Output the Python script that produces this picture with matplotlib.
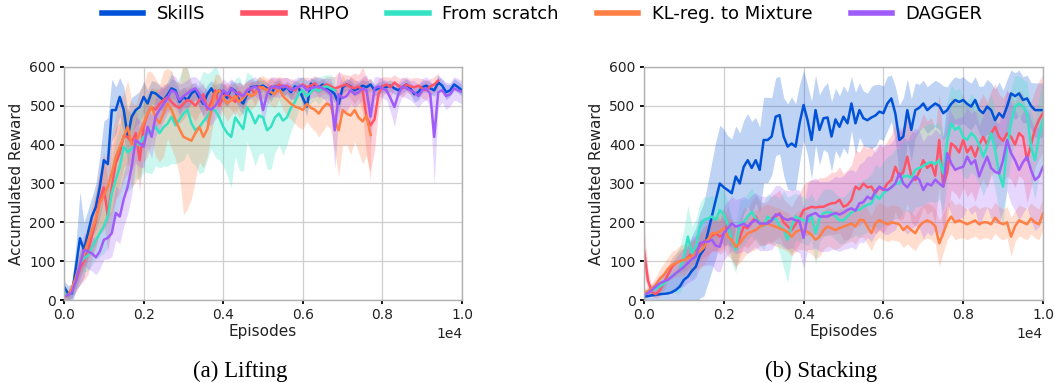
import numpy as np
import matplotlib
matplotlib.use('Agg')
from matplotlib import pyplot as plt


names = ['SkillS', 'RHPO', 'From scratch', 'KL-reg. to Mixture', 'DAGGER']
colors = ['#0052D9', '#FF5468', '#36E2C4', '#FF7F45', '#A05CF8']
step = 100  # episodes between logged points

# ---- (a) Lifting ----
lift_skills = [34, 17, 17, 86, 159, 129, 172, 215, 240, 292,
               360, 350, 489, 489, 523, 489, 420, 472, 489, 497,
               523, 506, 535, 532, 523, 515, 528, 545, 540, 510,
               523, 515, 532, 540, 520, 505, 530, 545, 528, 540,
               532, 520, 545, 538, 515, 506, 530, 548, 550, 549,
               552, 545, 530, 549, 552, 540, 548, 535, 550, 545,
               520, 498, 557, 552, 548, 555, 545, 540, 530, 505,
               548, 555, 550, 540, 545, 552, 548, 555, 540, 545,
               550, 548, 552, 545, 540, 548, 555, 545, 530, 535,
               548, 552, 545, 540, 560, 552, 535, 540, 555, 548,
               540]
lift_skills_sd = [15, 20, 25, 60, 120, 70, 60, 50, 60, 80,
                  100, 120, 80, 60, 50, 60, 70, 50, 40, 40,
                  40, 35, 30, 30, 30, 30, 25, 25, 25, 30,
                  25, 25, 25, 20, 25, 30, 25, 20, 25, 20,
                  25, 25, 20, 20, 25, 30, 20, 15, 15, 15,
                  15, 15, 20, 15, 15, 15, 15, 20, 15, 15,
                  20, 25, 15, 15, 15, 15, 15, 15, 20, 25,
                  15, 15, 15, 15, 15, 15, 15, 15, 15, 15,
                  15, 15, 15, 15, 15, 15, 15, 15, 20, 20,
                  15, 15, 15, 15, 20, 15, 20, 15, 15, 15,
                  15]

lift_rhpo = [10, 12, 25, 50, 80, 100, 125, 165, 205, 260,
             290, 215, 292, 352, 378, 423, 420, 405, 430, 360,
             446, 480, 497, 490, 505, 515, 523, 510, 500, 495,
             505, 515, 510, 500, 515, 530, 490, 510, 540, 500,
             525, 530, 520, 510, 535, 520, 540, 545, 530, 550,
             545, 540, 550, 545, 555, 548, 552, 545, 540, 550,
             555, 548, 552, 558, 545, 550, 555, 550, 545, 548,
             552, 555, 548, 545, 550, 540, 470, 450, 465, 530,
             550, 555, 548, 560, 552, 545, 555, 550, 548, 552,
             545, 540, 550, 555, 565]
lift_rhpo_sd = [10, 15, 20, 30, 40, 50, 60, 60, 70, 80,
                90, 90, 100, 90, 80, 80, 70, 70, 70, 80,
                60, 50, 50, 50, 40, 40, 35, 35, 40, 40,
                40, 35, 35, 40, 35, 30, 40, 35, 30, 35,
                30, 30, 30, 35, 30, 30, 25, 25, 30, 25,
                25, 25, 25, 25, 20, 25, 20, 25, 25, 20,
                20, 25, 20, 20, 25, 20, 20, 25, 30, 40,
                30, 25, 30, 40, 30, 60, 100, 120, 80, 40,
                25, 20, 25, 20, 20, 25, 20, 20, 25, 20,
                25, 25, 20, 20, 20]

lift_scratch = [15, 12, 20, 55, 95, 107, 115, 135, 155, 172,
                190, 215, 275, 310, 343, 395, 380, 390, 403, 400,
                420, 428, 435, 446, 430, 445, 454, 472, 450, 465,
                480, 490, 455, 437, 445, 460, 472, 490, 488, 470,
                446, 430, 420, 470, 455, 440, 497, 480, 455, 475,
                470, 437, 446, 470, 480, 462, 470, 495, 510, 532,
                540, 525, 535, 545, 538, 548, 550, 545, 540]
lift_scratch_sd = [10, 10, 15, 25, 30, 35, 40, 45, 50, 60,
                   70, 80, 90, 100, 100, 110, 100, 100, 90, 90,
                   90, 100, 110, 100, 90, 100, 110, 120, 100, 110,
                   120, 110, 100, 90, 120, 130, 110, 100, 120, 110,
                   100, 110, 130, 100, 120, 110, 90, 100, 110, 100,
                   90, 100, 110, 90, 80, 90, 70, 60, 50, 40,
                   35, 40, 30, 30, 35, 30, 30, 35, 30]

lift_kl = [8, 12, 30, 60, 94, 120, 150, 180, 210, 249,
           270, 292, 326, 369, 395, 420, 446, 400, 403, 430,
           455, 480, 497, 470, 455, 480, 506, 490, 463, 440,
           420, 415, 410, 430, 446, 420, 440, 489, 532, 540,
           520, 506, 515, 525, 510, 520, 532, 525, 530, 545,
           548, 540, 535, 530, 545, 525, 515, 505, 498, 495,
           489, 505, 495, 490, 480, 495, 506, 500, 463, 437,
           489, 480, 475, 489, 470, 460, 475, 425]
lift_kl_sd = [10, 10, 15, 25, 35, 40, 50, 60, 70, 80,
              90, 90, 100, 110, 120, 110, 120, 110, 100, 110,
              100, 110, 90, 100, 100, 110, 90, 100, 100, 120,
              200, 180, 150, 120, 90, 80, 70, 60, 50, 40,
              40, 45, 40, 35, 40, 35, 30, 35, 30, 30,
              30, 30, 35, 35, 30, 35, 40, 40, 45, 50,
              50, 45, 50, 55, 60, 60, 55, 60, 80, 120,
              90, 80, 100, 80, 90, 110, 100, 120]

lift_dagger = [10, 12, 20, 50, 90, 129, 125, 120, 110, 125,
               155, 160, 172, 224, 215, 260, 292, 343, 412, 403,
               395, 446, 420, 472, 490, 505, 520, 540, 535, 515,
               525, 532, 540, 545, 530, 510, 495, 490, 500, 515,
               540, 530, 545, 535, 530, 525, 540, 545, 550, 540,
               489, 530, 548, 550, 545, 552, 548, 540, 545, 550,
               552, 540, 545, 548, 550, 545, 540, 530, 437, 530,
               520, 525, 540, 530, 535, 545, 540, 472, 545, 550,
               545, 540, 520, 497, 530, 550, 545, 540, 535, 525,
               540, 545, 530, 420, 535, 540, 525, 530, 545, 540,
               535]
lift_dagger_sd = [10, 10, 15, 25, 35, 40, 45, 45, 45, 45,
                  50, 55, 60, 70, 70, 70, 70, 70, 60, 60,
                  55, 55, 55, 50, 50, 45, 40, 40, 40, 40,
                  35, 35, 35, 30, 35, 40, 45, 40, 35, 35,
                  30, 30, 25, 25, 30, 30, 25, 25, 25, 25,
                  40, 30, 25, 25, 25, 20, 25, 25, 25, 25,
                  20, 25, 25, 25, 25, 25, 30, 40, 100, 60,
                  40, 40, 35, 35, 30, 30, 40, 70, 30, 25,
                  25, 25, 35, 50, 30, 25, 25, 25, 30, 30,
                  30, 30, 35, 120, 40, 30, 35, 30, 30, 30,
                  30]

# ---- (b) Stacking ----
stack_skills = [9, 10, 12, 13, 15, 16, 17, 20, 26, 35,
                52, 60, 75, 86, 115, 130, 172, 215, 258, 300,
                290, 283, 275, 318, 300, 343, 360, 340, 360, 335,
                412, 412, 421, 472, 476, 421, 395, 403, 395, 455,
                502, 463, 412, 489, 438, 468, 470, 421, 465, 446,
                472, 455, 506, 455, 489, 468, 463, 470, 475, 485,
                481, 506, 519, 480, 412, 421, 489, 438, 489, 495,
                506, 489, 498, 506, 500, 481, 489, 505, 515, 510,
                515, 505, 498, 515, 490, 481, 498, 489, 463, 481,
                470, 498, 532, 525, 532, 515, 519, 500, 489, 489,
                489]
stack_skills_sd = [10, 10, 12, 15, 20, 25, 30, 40, 50, 60,
                   70, 80, 90, 100, 110, 120, 130, 140, 150, 150,
                   150, 140, 140, 130, 130, 120, 120, 120, 110, 110,
                   110, 110, 100, 100, 100, 100, 110, 120, 110, 100,
                   90, 90, 100, 90, 90, 80, 90, 90, 80, 80,
                   80, 80, 70, 80, 70, 70, 70, 80, 80, 70,
                   70, 70, 60, 70, 90, 100, 80, 80, 70, 60,
                   60, 60, 60, 60, 60, 70, 60, 60, 60, 60,
                   60, 60, 60, 60, 60, 70, 70, 70, 80, 80,
                   70, 70, 60, 60, 60, 60, 60, 60, 70, 70,
                   70]

stack_rhpo = [130, 50, 20, 15, 25, 45, 65, 85, 95, 100,
              103, 110, 120, 130, 137, 150, 155, 165, 172, 163,
              170, 198, 155, 130, 160, 189, 185, 200, 215, 198,
              195, 200, 210, 215, 223, 200, 190, 180, 195, 210,
              232, 236, 240, 238, 240, 240, 245, 249, 250, 258,
              240, 245, 258, 292, 285, 300, 290, 292, 275, 290,
              283, 300, 309, 343, 318, 330, 369, 320, 309, 330,
              360, 340, 350, 320, 412, 292, 330, 403, 395, 380,
              412, 380, 395, 369, 400, 420, 400, 429, 446, 420,
              410, 429, 420, 400, 430, 420, 360, 400, 440, 464,
              481]
stack_rhpo_sd = [60, 30, 10, 10, 15, 20, 20, 25, 25, 30,
                 30, 30, 30, 35, 35, 40, 40, 40, 45, 45,
                 45, 45, 50, 50, 50, 50, 50, 55, 55, 55,
                 55, 55, 60, 60, 60, 60, 60, 60, 65, 65,
                 65, 70, 70, 70, 75, 75, 75, 80, 80, 85,
                 85, 90, 90, 95, 95, 100, 100, 105, 105, 110,
                 110, 110, 115, 115, 115, 120, 120, 120, 120, 120,
                 120, 120, 120, 120, 120, 120, 120, 120, 120, 120,
                 120, 115, 115, 115, 110, 110, 110, 110, 110, 110,
                 110, 110, 110, 110, 110, 110, 110, 110, 100, 100,
                 100]

stack_scratch = [17, 20, 25, 30, 35, 42, 52, 62, 69, 77,
                 112, 163, 120, 137, 189, 206, 210, 215, 206, 232,
                 220, 195, 155, 129, 197, 200, 215, 227, 210, 200,
                 190, 215, 205, 210, 190, 182, 155, 190, 215, 210,
                 205, 200, 215, 172, 210, 224, 226, 225, 215, 205,
                 205, 215, 225, 232, 232, 240, 245, 249, 270, 260,
                 275, 283, 290, 300, 300, 318, 320, 315, 335, 340,
                 345, 352, 355, 350, 360, 326, 412, 455, 438, 446,
                 420, 412, 430, 420, 400, 369, 395, 429, 386, 326,
                 292, 395, 455, 498, 506, 498, 480, 395, 360, 420,
                 464]
stack_scratch_sd = [10, 10, 12, 15, 20, 25, 30, 40, 50, 60,
                    70, 80, 70, 70, 60, 60, 55, 55, 55, 60,
                    60, 60, 60, 60, 60, 60, 60, 60, 60, 60,
                    60, 60, 60, 60, 70, 100, 110, 80, 60, 60,
                    60, 60, 60, 80, 60, 60, 60, 60, 60, 60,
                    60, 60, 65, 65, 70, 70, 70, 75, 80, 80,
                    80, 85, 85, 90, 90, 90, 90, 95, 95, 100,
                    100, 100, 100, 100, 100, 100, 100, 100, 100, 100,
                    100, 100, 100, 100, 100, 100, 100, 100, 100, 100,
                    100, 100, 90, 80, 70, 70, 80, 90, 100, 100,
                    100]

stack_kl = [20, 22, 30, 40, 55, 65, 80, 90, 95, 100,
            103, 108, 112, 120, 125, 135, 155, 172, 172, 176,
            185, 163, 155, 137, 146, 160, 172, 176, 180, 189,
            193, 197, 192, 189, 185, 180, 175, 163, 175, 180,
            180, 175, 168, 155, 163, 180, 189, 185, 180, 185,
            189, 193, 197, 189, 206, 206, 189, 172, 197, 206,
            200, 195, 200, 198, 195, 180, 190, 180, 172, 190,
            200, 205, 200, 190, 146, 172, 200, 215, 200, 205,
            200, 195, 200, 205, 195, 200, 200, 195, 212, 200,
            195, 200, 163, 190, 205, 200, 195, 210, 200, 195,
            223]
stack_kl_sd = [10, 10, 15, 20, 25, 30, 30, 35, 35, 40,
               40, 40, 40, 40, 45, 45, 45, 45, 45, 50,
               50, 50, 50, 50, 50, 50, 50, 50, 50, 50,
               50, 50, 50, 50, 50, 50, 50, 50, 50, 50,
               50, 50, 50, 50, 50, 50, 50, 50, 50, 50,
               45, 45, 45, 45, 45, 45, 45, 45, 45, 45,
               45, 45, 45, 45, 45, 45, 45, 45, 45, 45,
               45, 45, 45, 45, 60, 50, 45, 45, 45, 45,
               40, 40, 40, 40, 40, 40, 40, 40, 40, 40,
               40, 40, 50, 40, 40, 40, 40, 40, 40, 40,
               40]

stack_dagger = [13, 18, 26, 35, 43, 48, 52, 60, 69, 77,
                85, 95, 105, 112, 146, 150, 150, 155, 140, 137,
                172, 185, 197, 189, 192, 197, 189, 200, 206, 197,
                197, 197, 205, 220, 220, 210, 206, 210, 205, 202,
                160, 215, 220, 224, 215, 215, 215, 220, 224, 220,
                225, 232, 236, 230, 249, 252, 266, 260, 280, 292,
                285, 283, 290, 300, 326, 300, 290, 305, 318, 310,
                283, 300, 295, 310, 300, 292, 378, 352, 335, 340,
                343, 369, 350, 360, 318, 345, 369, 340, 330, 326,
                360, 412, 378, 360, 335, 355, 369, 335, 309, 318,
                343]
stack_dagger_sd = [10, 10, 12, 15, 20, 25, 30, 35, 40, 45,
                   50, 50, 55, 55, 60, 60, 60, 65, 65, 65,
                   70, 70, 70, 70, 70, 70, 70, 70, 70, 70,
                   70, 70, 75, 75, 75, 75, 75, 75, 80, 80,
                   80, 85, 90, 90, 90, 90, 90, 90, 95, 95,
                   95, 100, 100, 100, 100, 105, 105, 110, 110, 110,
                   115, 115, 115, 120, 120, 120, 120, 125, 125, 125,
                   125, 125, 130, 130, 130, 130, 130, 130, 130, 130,
                   130, 130, 130, 130, 130, 130, 130, 130, 130, 130,
                   130, 130, 130, 130, 130, 130, 130, 130, 130, 130,
                   130]

lifting = [(lift_skills, lift_skills_sd), (lift_rhpo, lift_rhpo_sd),
           (lift_scratch, lift_scratch_sd), (lift_kl, lift_kl_sd),
           (lift_dagger, lift_dagger_sd)]
stacking = [(stack_skills, stack_skills_sd), (stack_rhpo, stack_rhpo_sd),
            (stack_scratch, stack_scratch_sd), (stack_kl, stack_kl_sd),
            (stack_dagger, stack_dagger_sd)]


def draw_panel(ax, runs):
    for (mean, sd), c, name in zip(runs, colors, names):
        mean = np.array(mean, dtype=float)
        sd = np.array(sd, dtype=float)
        x = np.arange(len(mean)) * step
        ax.fill_between(x, mean - sd, mean + sd, color=c, alpha=0.25, lw=0)
        ax.plot(x, mean, color=c, lw=1.8, label=name)

    ax.set_xlim(0, 10000)
    ax.set_ylim(0, 600)
    ax.set_xticks(np.arange(0, 10001, 2000))
    ax.set_yticks(np.arange(0, 601, 100))
    ax.ticklabel_format(style='sci', axis='x', scilimits=(0, 0))
    ax.xaxis.get_offset_text().set_fontsize(10)
    ax.grid(True, color='#cfcfcf', lw=0.9)
    ax.set_axisbelow(True)
    for s in ax.spines.values():
        s.set_color('#b0b0b0')
        s.set_linewidth(1.0)
    ax.tick_params(direction='out', length=3, width=1.3, color='black',
                   labelsize=10, pad=3, labelcolor='#222222')
    ax.set_xlabel('Episodes', fontsize=11, labelpad=1, color='#222222')
    ax.set_ylabel('Accumulated Reward', fontsize=11, labelpad=4, color='#222222')


fig = plt.figure(figsize=(10.55, 3.83), dpi=100)
ax1 = fig.add_axes([0.0607, 0.2167, 0.3773, 0.6084])
ax2 = fig.add_axes([0.6104, 0.2167, 0.3782, 0.6084])

draw_panel(ax1, lifting)
draw_panel(ax2, stacking)

handles, labels = ax1.get_legend_handles_labels()
leg = fig.legend(handles, labels, loc='center', bbox_to_anchor=(0.514, 0.963),
                 ncol=5, frameon=False, fontsize=13, handlelength=2.3,
                 handletextpad=0.75, columnspacing=2.1)
for h in leg.get_lines():
    h.set_linewidth(4)

fig.text(0.2275, 0.031, '(a) Lifting', ha='center', va='center',
         family='Liberation Serif', fontsize=16.5)
fig.text(0.7787, 0.031, '(b) Stacking', ha='center', va='center',
         family='Liberation Serif', fontsize=16.5)

fig.savefig('out.png', dpi=100)
